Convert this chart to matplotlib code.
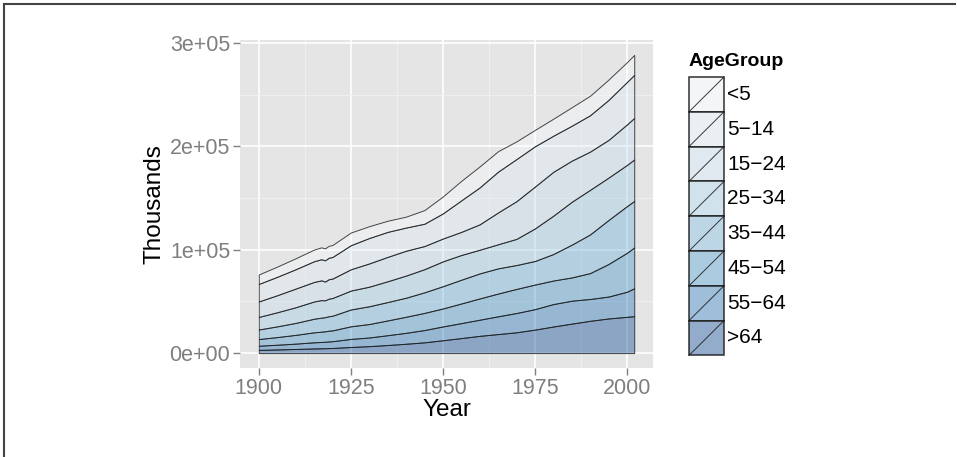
import numpy as np
import matplotlib
matplotlib.use("Agg")
import matplotlib.pyplot as plt
from matplotlib.patches import Rectangle
from matplotlib.lines import Line2D

plt.rcParams['font.family'] = ['Liberation Sans', 'DejaVu Sans']

years = [1900, 1905, 1910, 1915, 1917, 1918, 1919, 1920, 1925, 1930, 1935, 1940,
         1945, 1950, 1955, 1960, 1965, 1970, 1975, 1980, 1985, 1990, 1995, 2000, 2002]

age_groups = ["<5", "5-14", "15-24", "25-34", "35-44", "45-54", "55-64", ">64"]

under5   = [9181, 9890, 10631, 11300, 11500, 11550, 11560, 11573, 12300, 11444, 10800, 10579,
            13200, 16410, 18900, 20341, 19800, 17166, 15900, 16458, 17900, 18874, 19700, 19178, 19300]
age5_14  = [16966, 17830, 18729, 20050, 20450, 20550, 20800, 20889, 23300, 24631, 24200, 22431,
            21600, 24319, 30500, 35735, 39500, 40746, 39000, 34942, 33800, 35188, 38700, 41078, 41700]
age15_24 = [14951, 16490, 18071, 18900, 19100, 18200, 18800, 18821, 20600, 22484, 23600, 24033,
            22400, 22098, 22400, 24576, 30800, 36496, 40500, 42487, 39800, 37013, 36500, 39183, 40200]
age25_34 = [12161, 13660, 15146, 16700, 17000, 16300, 17000, 17158, 18300, 18954, 20100, 21446,
            22400, 24036, 23900, 22919, 23300, 25293, 31500, 37082, 41500, 43161, 41000, 39892, 40200]
age35_44 = [9273, 10370, 11579, 13150, 13550, 13700, 14000, 14160, 16300, 17199, 17800, 18422,
            19900, 21557, 23000, 24221, 24400, 23142, 22800, 25634, 31700, 37435, 42600, 45149, 45000]
age45_54 = [6437, 7400, 8472, 9650, 9950, 10100, 10350, 10498, 12200, 13018, 14300, 15555,
            16600, 17398, 19000, 20578, 22000, 23310, 23800, 22800, 22500, 25057, 31500, 37678, 39500]
age55_64 = [4026, 4560, 5153, 5950, 6150, 6250, 6450, 6535, 7800, 8397, 9500, 10572,
            11900, 13370, 14500, 15625, 17200, 18664, 19800, 21703, 22200, 21113, 21200, 24275, 27000]
over64   = [3099, 3520, 3986, 4480, 4630, 4700, 4850, 4933, 5900, 6705, 7800, 9031,
            10400, 12397, 14500, 16675, 18400, 20107, 22700, 25707, 28500, 31242, 33500, 35077, 35700]

series = [under5, age5_14, age15_24, age25_34, age35_44, age45_54, age55_64, over64]
blues = ["#F7FBFF", "#DEEBF7", "#C6DBEF", "#9ECAE1", "#6BAED6", "#4292C6", "#2171B5", "#084594"]

x_ticks = [1900, 1925, 1950, 1975, 2000]
y_ticks = [0, 100000, 200000, 300000]
y_labels = ["0e+00", "1e+05", "2e+05", "3e+05"]

W, H = 957, 457
fig = plt.figure(figsize=(W / 100, H / 100), dpi=100)
fig.patch.set_facecolor("white")

L, R, T, B = 240, 653, 40, 368
ax = fig.add_axes([L / W, 1 - B / H, (R - L) / W, (B - T) / H])
ax.set_facecolor("#E5E5E5")

x = np.array(years, dtype=float)
# stack: >64 at bottom, <5 on top
base = np.zeros_like(x)
for vals, col in zip(series[::-1], blues[::-1]):
    v = np.array(vals, dtype=float)
    top = base + v
    rgb = matplotlib.colors.to_rgb(col)
    ax.fill_between(x, base, top, facecolor=(*rgb, 0.4),
                    edgecolor=(0.1, 0.1, 0.1, 0.8), linewidth=0.7, zorder=3)
    base = top

ax.set_xlim(1894.9, 2007.1)
ax.set_ylim(-14430, 303030)

ax.set_xticks(x_ticks)
ax.set_xticks([1912.5, 1937.5, 1962.5, 1987.5], minor=True)
ax.set_yticks(y_ticks)
ax.set_yticklabels(y_labels)
ax.set_yticks([50000, 150000, 250000], minor=True)
ax.grid(which="major", color="white", linewidth=1.2, zorder=0)
ax.grid(which="minor", color="#F2F2F2", linewidth=0.6, zorder=0)
ax.set_axisbelow(True)
for s in ax.spines.values():
    s.set_visible(False)
ax.tick_params(which="major", colors="#7F7F7F", labelsize=15.5, length=5, width=1, pad=2)
ax.tick_params(which="minor", length=0)
ax.set_xlabel("Year", fontsize=17.5, color="black", labelpad=0)
ax.set_ylabel("Thousands", fontsize=17.5, color="black", labelpad=3)

# overlay for legend and border
ov = fig.add_axes([0, 0, 1, 1], facecolor="none")
ov.set_xlim(0, W)
ov.set_ylim(H, 0)
ov.axis("off")

ov.add_line(Line2D([3.5, 955], [3.5, 3.5], color="#444444", linewidth=1.5))
ov.add_line(Line2D([3.5, 3.5], [3.5, H], color="#444444", linewidth=1.5))

ov.text(689, 62, "AgeGroup", fontsize=14, fontweight="bold", ha="left", va="center")
kx0, kw, ky0, kh = 689, 35, 77, 34.8
for i, (lab, col) in enumerate(zip(age_groups, blues)):
    y0 = ky0 + i * kh
    ov.add_patch(Rectangle((kx0, y0), kw, kh, facecolor="#F2F2F2", edgecolor="none"))
    rgb = matplotlib.colors.to_rgb(col)
    ov.add_patch(Rectangle((kx0, y0), kw, kh, facecolor=(*rgb, 0.4),
                           edgecolor=(0.1, 0.1, 0.1, 0.9), linewidth=1.1))
    ov.add_line(Line2D([kx0, kx0 + kw], [y0 + kh, y0], color=(0.1, 0.1, 0.1, 0.85), linewidth=0.7))
    ov.text(kx0 + kw + 3, y0 + kh / 2, lab.replace("-", "\u2212"), fontsize=15,
            ha="left", va="center")

fig.savefig("out.png", dpi=100)
